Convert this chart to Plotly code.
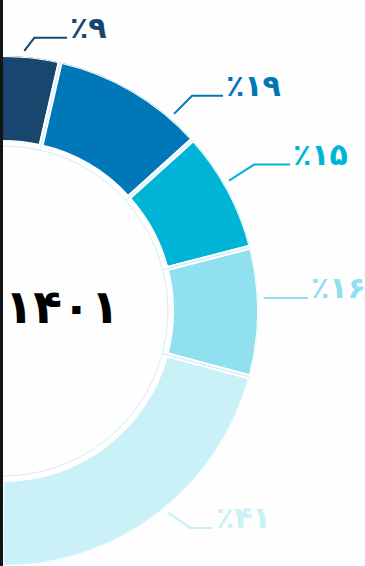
import math
import plotly.graph_objects as go

# ---------------- data ----------------
values = [9, 19, 15, 16, 41]
colors = ["#17466f", "#0077b6", "#00b4d8", "#90e0ef", "#caf0f8"]
center_title = "۱۴۰۱"

FA_DIGITS = "۰۱۲۳۴۵۶۷۸۹"


def to_fa(n):
    return "".join(FA_DIGITS[int(c)] for c in str(n))


labels = ["٪" + to_fa(v) for v in values]

# ---------------- layout geometry (pixels) ----------------
W, H = 365, 566
CX, CY = 3, 311          # donut centre in page pixels
R = 255                  # polar radius in px (radial unit = 1 px)
START = -3.6             # angle of first slice edge (deg, clockwise from top)
SPAN = 184.0             # angular span of the whole series
BAR_BASE, BAR_TOP = 168.5, 256.5
RING_IN, RING_OUT = 165, 262

# leader-line styling per label
leader_nudge = [0, 10.5, -1.7, -3.1, -2.0]
leader_elbow = [(10, -13), (18, -18), (25, -16), (0, 0), (22, 15)]
leader_end_x = [67, 223, 290, 308, 213]

total = sum(values)
widths = [v / total * SPAN for v in values]
thetas = []
acc = START
for w in widths:
    thetas.append(acc + w / 2)
    acc += w

fig = go.Figure()

# coloured slices
fig.add_trace(go.Barpolar(
    theta=thetas, width=widths,
    base=[BAR_BASE] * len(values), r=[BAR_TOP - BAR_BASE] * len(values),
    marker=dict(color=colors, line=dict(color="white", width=5)),
    hoverinfo="skip", showlegend=False,
))
# thin outline ring
fig.add_trace(go.Barpolar(
    theta=thetas, width=widths,
    base=[RING_IN] * len(values), r=[RING_OUT - RING_IN] * len(values),
    marker=dict(color="rgba(0,0,0,0)", line=dict(color="#d3ecf6", width=1)),
    hoverinfo="skip", showlegend=False,
))
# centre title (cliponaxis=False so the ring can spill past the polar frame)
fig.add_trace(go.Scatterpolar(
    r=[59], theta=[90], mode="text", text=["<b>" + center_title + "</b>"],
    textposition="middle center", cliponaxis=False,
    textfont=dict(family="DejaVu Sans", size=47, color="#000000"),
    hoverinfo="skip", showlegend=False,
))

annotations = []
for i, (lab, col) in enumerate(zip(labels, colors)):
    a = math.radians(thetas[i] + leader_nudge[i])
    sx = CX + (RING_OUT - 1) * math.sin(a)
    sy = CY - (RING_OUT - 1) * math.cos(a)
    ex_, ey_ = sx + leader_elbow[i][0], sy + leader_elbow[i][1]
    xs = [sx, ex_, leader_end_x[i]]
    ys = [sy, ey_, ey_]
    fig.add_trace(go.Scatter(
        x=xs, y=ys, mode="lines", xaxis="x", yaxis="y",
        line=dict(color=col, width=2),
        hoverinfo="skip", showlegend=False,
    ))
    annotations.append(dict(
        x=(leader_end_x[i] + 1) / W, y=1 - (ey_ - 10) / H,
        xref="paper", yref="paper", xanchor="left", yanchor="middle",
        text="<b>" + lab + "</b>", showarrow=False,
        font=dict(family="DejaVu Sans", size=30, color=col),
    ))

fig.update_layout(
    width=W, height=H, margin=dict(l=0, r=0, t=0, b=0),
    paper_bgcolor="#fefefe", plot_bgcolor="rgba(0,0,0,0)",
    xaxis=dict(range=[0, W], visible=False, domain=[0, 1], fixedrange=True),
    yaxis=dict(range=[H, 0], visible=False, domain=[0, 1], fixedrange=True),
    polar=dict(
        domain=dict(x=[CX / W, (CX + R) / W], y=[1 - (CY + R) / H, 1 - (CY - R) / H]),
        sector=[-90, 90], hole=0, bgcolor="rgba(0,0,0,0)",
        radialaxis=dict(range=[0, R], visible=False, showgrid=False),
        angularaxis=dict(rotation=90, direction="clockwise", visible=False, showgrid=False),
    ),
    annotations=annotations,
    shapes=[dict(type="line", xref="paper", yref="paper", x0=1.5 / W, x1=1.5 / W,
                 y0=0, y1=1, line=dict(color="#141414", width=3))],
)

fig.write_html("out.html")
